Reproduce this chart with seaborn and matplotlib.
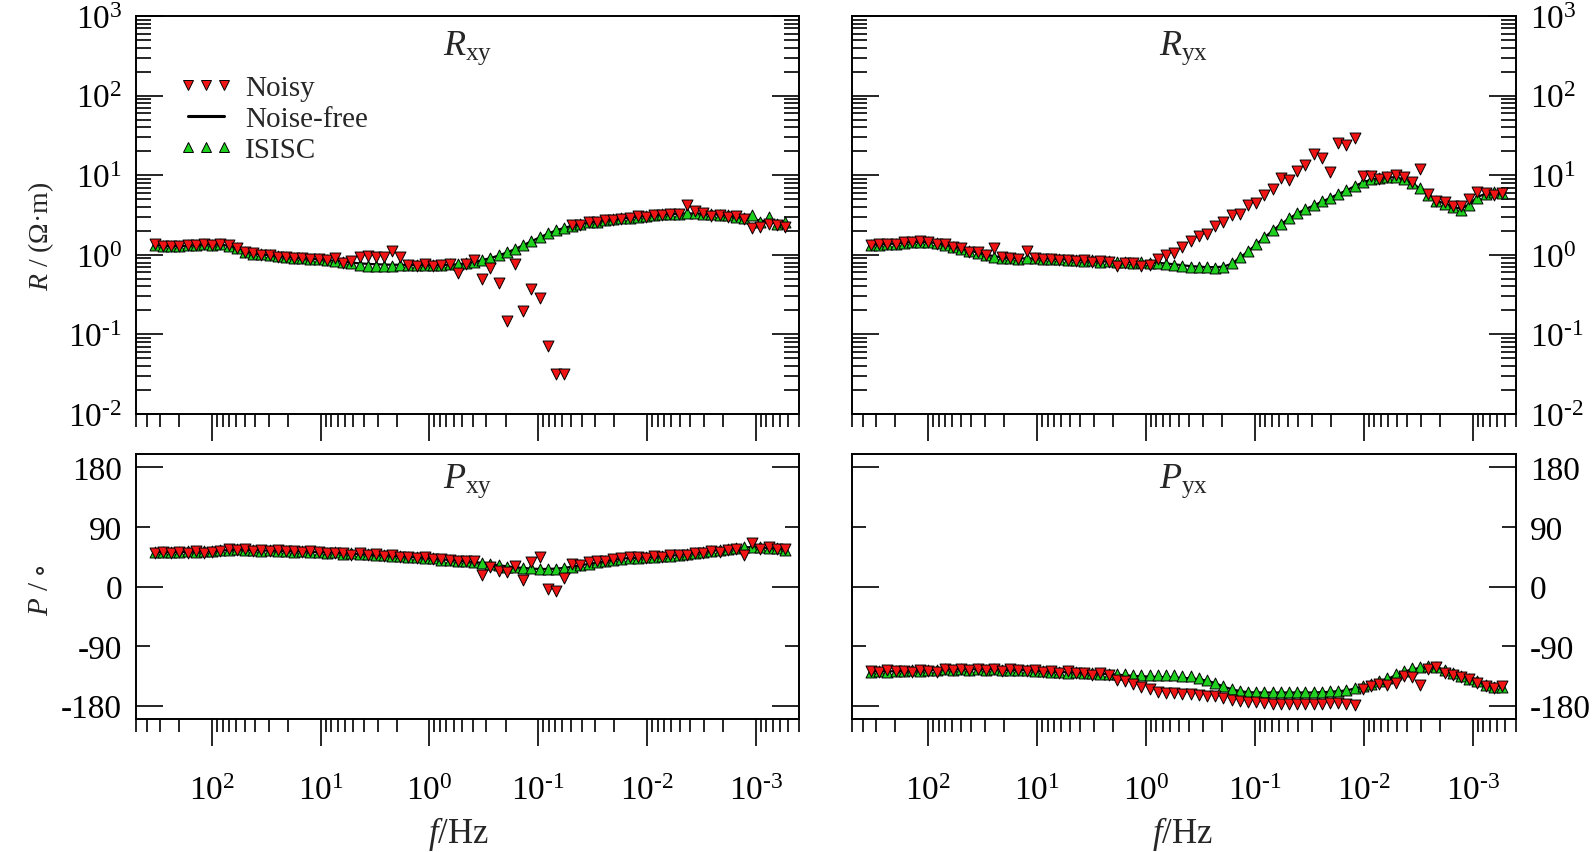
import numpy as np
import pandas as pd
import matplotlib
matplotlib.use("Agg")
import matplotlib.pyplot as plt
import seaborn as sns
from matplotlib.lines import Line2D
from matplotlib.ticker import (LogLocator, FixedLocator, FixedFormatter,
                               NullFormatter, FuncFormatter)

# ---------------- data ----------------
freq = [335, 281.7, 236.9, 199.2, 167.5, 140.9, 118.4, 99.6, 83.75, 70.4,
        59.2, 49.8, 41.9, 35.2, 29.6, 24.9, 20.9, 17.6, 14.8, 12.45,
        10.47, 8.80, 7.40, 6.22, 5.23, 4.40, 3.70, 3.11, 2.62, 2.20,
        1.85, 1.56, 1.309, 1.101, 0.925, 0.778, 0.654, 0.550, 0.463, 0.389,
        0.327, 0.275, 0.231, 0.1945, 0.1636, 0.1375, 0.1157, 0.0973, 0.0818, 0.0688,
        0.0578, 0.0486, 0.0409, 0.0344, 0.0289, 0.0243, 0.02045, 0.0172, 0.01446, 0.01216,
        0.01022, 0.0086, 0.00723, 0.00608, 0.00511, 0.0043, 0.00361, 0.00304, 0.002556, 0.00215,
        0.001807, 0.00152, 0.001278, 0.001075, 0.000904, 0.00076, 0.000639, 0.000537]

rxy_clean = [1.33, 1.30, 1.29, 1.29, 1.30, 1.32, 1.34, 1.35, 1.34, 1.30,
             1.20, 1.10, 1.04, 1.01, 0.99, 0.96, 0.94, 0.92, 0.90, 0.89,
             0.88, 0.86, 0.84, 0.82, 0.80, 0.78, 0.77, 0.76, 0.755, 0.75,
             0.75, 0.745, 0.74, 0.74, 0.74, 0.745, 0.75, 0.76, 0.78, 0.81,
             0.86, 0.91, 0.98, 1.07, 1.18, 1.32, 1.48, 1.65, 1.84, 2.02,
             2.18, 2.32, 2.43, 2.52, 2.60, 2.68, 2.76, 2.84, 2.92, 3.00,
             3.07, 3.14, 3.20, 3.25, 3.28, 3.30, 3.30, 3.28, 3.24, 3.18,
             3.10, 3.00, 2.90, 2.80, 2.70, 2.60, 2.52, 2.45]
rxy_isisc = [1.34, 1.29, 1.30, 1.28, 1.31, 1.32, 1.35, 1.34, 1.35, 1.29,
             1.21, 1.09, 1.03, 1.02, 0.98, 0.96, 0.93, 0.92, 0.90, 0.88,
             0.88, 0.85, 0.84, 0.81, 0.79, 0.74, 0.73, 0.72, 0.72, 0.73,
             0.74, 0.75, 0.74, 0.75, 0.74, 0.75, 0.76, 0.76, 0.79, 0.82,
             0.87, 0.92, 0.99, 1.08, 1.19, 1.33, 1.50, 1.66, 1.86, 2.03,
             2.20, 2.33, 2.45, 2.55, 2.62, 2.70, 2.78, 2.86, 2.94, 3.02,
             3.10, 3.16, 3.22, 3.27, 3.30, 3.32, 3.31, 3.29, 3.26, 3.20,
             3.12, 3.02, 2.88, 3.15, 2.60, 3.00, 2.45, 2.55]
rxy_noisy = [1.36, 1.29, 1.30, 1.28, 1.31, 1.33, 1.37, 1.34, 1.36, 1.31,
             1.23, 1.08, 1.05, 1.00, 1.00, 0.95, 0.95, 0.91, 0.91, 0.88,
             0.89, 0.87, 0.91, 0.80, 0.83, 0.93, 0.96, 0.93, 0.95, 1.11,
             0.93, 0.75, 0.72, 0.76, 0.73, 0.74, 0.77, 0.59, 0.77, 0.85,
             0.50, 0.68, 0.44, 0.146, 0.77, 0.195, 0.37, 0.29, 0.071, 0.032,
             0.032, 2.35, 2.40, 2.55, 2.55, 2.72, 2.70, 2.85, 2.88, 3.05,
             3.02, 3.20, 3.15, 3.30, 3.25, 4.20, 3.60, 3.35, 3.10, 3.20,
             2.95, 3.05, 2.85, 2.15, 2.25, 2.45, 2.35, 2.25]

ryx_clean = [1.33, 1.35, 1.37, 1.38, 1.42, 1.45, 1.46, 1.45, 1.40, 1.34,
             1.28, 1.20, 1.13, 1.07, 1.01, 0.96, 0.93, 0.91, 0.90, 0.90,
             0.90, 0.90, 0.89, 0.88, 0.87, 0.86, 0.85, 0.84, 0.83, 0.82,
             0.82, 0.81, 0.81, 0.81, 0.80, 0.79, 0.78, 0.76, 0.74, 0.72,
             0.71, 0.70, 0.70, 0.71, 0.77, 0.92, 1.10, 1.35, 1.65, 2.00,
             2.42, 2.85, 3.30, 3.75, 4.15, 4.65, 5.15, 5.80, 6.40, 7.30,
             8.10, 8.80, 9.20, 9.40, 9.40, 8.90, 7.90, 6.80, 5.60, 4.80,
             4.40, 4.00, 3.80, 4.30, 5.30, 5.90, 6.00, 5.90]
ryx_isisc = [1.31, 1.34, 1.36, 1.38, 1.41, 1.44, 1.46, 1.44, 1.39, 1.33,
             1.27, 1.19, 1.12, 1.06, 1.00, 0.95, 0.92, 0.90, 0.89, 0.90,
             0.91, 0.89, 0.88, 0.89, 0.86, 0.87, 0.84, 0.85, 0.82, 0.83,
             0.81, 0.82, 0.80, 0.81, 0.79, 0.80, 0.77, 0.75, 0.73, 0.71,
             0.70, 0.70, 0.69, 0.71, 0.78, 0.93, 1.12, 1.37, 1.67, 2.03,
             2.45, 2.88, 3.34, 3.78, 4.18, 4.70, 5.20, 5.85, 6.45, 7.35,
             8.20, 8.90, 9.30, 9.50, 9.50, 9.00, 8.00, 6.90, 5.60, 4.70,
             4.30, 3.95, 3.70, 4.20, 5.20, 5.80, 6.10, 5.90]
ryx_noisy = [1.31, 1.36, 1.38, 1.36, 1.45, 1.44, 1.47, 1.46, 1.38, 1.36,
             1.25, 1.22, 1.10, 1.08, 0.99, 1.21, 0.93, 0.92, 0.88, 1.13,
             0.92, 0.88, 0.89, 0.86, 0.86, 0.84, 0.87, 0.82, 0.83, 0.81,
             0.72, 0.80, 0.79, 0.72, 0.75, 0.89, 0.98, 1.06, 1.27, 1.51,
             1.70, 1.83, 2.27, 2.57, 3.18, 3.27, 4.24, 4.50, 5.70, 6.70,
             9.2, 8.6, 11.4, 13.5, 18.2, 16.5, 11.1, 25.5, 24.0, 29.5,
             9.9, 9.7, 9.0, 9.4, 10.2, 9.4, 8.1, 12.0, 5.8, 4.8,
             4.6, 4.16, 4.16, 5.0, 6.2, 6.0, 5.6, 5.9]

pxy_clean = [52, 52, 52, 52, 52.5, 52.5, 53, 53.5, 54, 55,
             55.5, 55.5, 55, 54.5, 54, 54, 53.5, 53, 53, 52.5,
             52, 51.5, 51, 50, 49.5, 49, 48, 47.5, 47, 46,
             45.5, 44.5, 44, 43, 42, 41, 40, 39, 38, 37,
             35.5, 34, 32, 30.5, 29, 28, 27, 26.5, 26.5, 27,
             28, 30, 32, 34, 36, 38, 40, 42, 43, 43.5,
             44, 44.5, 45.5, 46.5, 47.5, 49, 50.5, 52, 53.5, 55,
             56.5, 58, 59, 59.5, 59, 58, 57, 56]
pxy_isisc = [52, 52.5, 51.5, 52, 53, 52, 53.5, 53, 54.5, 55,
             56, 55, 55.5, 54, 54.5, 53.5, 54, 52.5, 53.5, 52,
             52.5, 51, 51.5, 49.5, 50, 48.5, 48.5, 47, 47.5, 45.5,
             46, 44, 44.5, 42.5, 42.5, 40.5, 40.5, 38.5, 38.5, 36.5,
             36, 33.5, 32.5, 30, 29.5, 27.5, 27.5, 26, 27, 26.5,
             28.5, 29.5, 32.5, 33.5, 36.5, 38, 40, 41.5, 43, 43.5,
             44, 44.5, 45.5, 46, 48, 48.5, 51, 51.5, 54, 54.5,
             57, 57.5, 59.5, 59, 59.5, 57.5, 57.5, 55.5]
pxy_noisy = [51, 52, 50, 52, 51, 53, 51, 52, 54, 56,
             55, 57, 54, 55, 54, 55, 53, 54, 52, 53,
             52, 51, 50, 51, 48, 50, 47, 49, 46, 47,
             45, 45, 43, 44, 41, 42, 40, 39, 39, 38,
             17.6, 28.7, 23.6, 22, 31, 10, 37, 44, -4, -7.5,
             12.6, 34, 33, 37, 38, 39, 41, 43, 44, 45,
             43, 46, 44, 47, 48, 47, 51, 50, 53, 52,
             55, 57, 47, 65, 57, 59, 56, 57]

pyx_clean = [-128, -128, -128, -128, -127.5, -127, -127, -126.5, -126, -125.5,
             -125, -125, -125, -125, -125, -125, -125.5, -126, -126, -126.5,
             -127, -128, -128.5, -129, -129.5, -130, -130.5, -131, -131.5, -132,
             -133, -134, -135, -135.5, -136, -136.5, -137, -137.5, -138, -138.5,
             -140, -142, -146, -151, -155, -158, -159.5, -160, -160, -160,
             -160, -160, -160, -160, -160, -159.5, -159, -158, -157, -154,
             -151, -148, -145, -140, -134, -129, -125, -123, -121, -121,
             -127, -131, -134, -138, -140, -149, -151, -150]
pyx_isisc = [-129, -127, -128.5, -127, -128, -126.5, -127.5, -126, -126.5, -125,
             -125.5, -124.5, -125.5, -124.5, -125.5, -124.5, -126, -125.5, -126.5, -126,
             -127.5, -127.5, -129, -128.5, -130, -129.5, -131, -130.5, -132, -131.5,
             -132, -132.5, -133, -133, -133.5, -133.5, -134, -134, -134.5, -135.5,
             -138, -141, -145, -150, -154, -157, -158.5, -159, -159.5, -159.5,
             -159.5, -159.5, -159, -159.5, -159, -159, -158, -157.5, -156, -153,
             -150, -147, -143, -138, -132, -127, -123, -121, -120, -122,
             -126, -131, -135, -139, -142, -148, -152, -151]
pyx_noisy = [-127, -129, -126, -128, -127, -129, -126, -128, -129, -124,
             -126, -124, -126, -124, -126, -125, -127, -124, -126, -127,
             -126, -129, -128, -130, -128, -131, -130, -133, -131, -134,
             -141, -143, -147, -151, -155, -159, -160, -161, -162, -163,
             -164, -165, -166, -168, -171, -173, -175, -175, -176, -177,
             -177, -177, -178, -178, -177, -177, -176, -176, -178, -179,
             -155, -150, -147, -149, -145, -135, -137, -149, -124, -122,
             -131, -134, -137, -140, -146, -150, -153, -150]

series_names = ["Noisy", "Noise-free", "ISISC"]
panel_titles = {"Rxy": r"$\mathit{R}_{\mathregular{xy}}$", "Ryx": r"$\mathit{R}_{\mathregular{yx}}$",
                "Pxy": r"$\mathit{P}_{\mathregular{xy}}$", "Pyx": r"$\mathit{P}_{\mathregular{yx}}$"}
res_ticks = [1e-2, 1e-1, 1e0, 1e1, 1e2, 1e3]
freq_ticks = [1e2, 1e1, 1e0, 1e-1, 1e-2, 1e-3]
phase_major = [-180, 0, 180]
phase_minor = [-90, 90]
phase_major_labels = ["-180", "0", "180"]
phase_minor_labels = ["-90", "90"]

# ---------------- assemble table ----------------
data = {"Rxy": (rxy_noisy, rxy_clean, rxy_isisc),
        "Ryx": (ryx_noisy, ryx_clean, ryx_isisc),
        "Pxy": (pxy_noisy, pxy_clean, pxy_isisc),
        "Pyx": (pyx_noisy, pyx_clean, pyx_isisc)}
frames = []
for pname, vals in data.items():
    for sname, v in zip(series_names, vals):
        frames.append(pd.DataFrame({"f": freq, "v": v, "series": sname, "panel": pname}))
df = pd.concat(frames, ignore_index=True)

# ---------------- style ----------------
sns.set_style("white")
plt.rcParams["font.family"] = ["Liberation Serif", "DejaVu Serif"]
plt.rcParams["mathtext.fontset"] = "custom"
plt.rcParams["mathtext.rm"] = "Liberation Serif"
plt.rcParams["mathtext.it"] = "Liberation Serif:italic"
plt.rcParams["mathtext.default"] = "regular"
plt.rcParams["axes.unicode_minus"] = False
plt.rcParams["axes.edgecolor"] = "black"
plt.rcParams["axes.linewidth"] = 1.4
plt.rcParams["xtick.color"] = "black"
plt.rcParams["ytick.color"] = "black"

RED = "#f01414"
GREEN = "#1fd01f"
MS = 62  # scatter marker area (pt^2)

W, H = 1594, 853
fig = plt.figure(figsize=(W / 100, H / 100), dpi=100)
fig.patch.set_facecolor("white")


def rect(l, t, r, b):
    return [l / W, 1 - b / H, (r - l) / W, (b - t) / H]


def pow10(v, p):
    e = int(round(np.log10(v)))
    es = ("\u2010%d" % abs(e)) if e < 0 else "%d" % e
    return r"$\mathregular{10^{%s}}$" % es


axes = {
    "Rxy": fig.add_axes(rect(136, 17, 799, 415)),
    "Ryx": fig.add_axes(rect(852, 17, 1516, 415)),
    "Pxy": fig.add_axes(rect(136, 455, 799, 720)),
    "Pyx": fig.add_axes(rect(852, 455, 1516, 720)),
}

TICK_FS = 24
for pname, ax in axes.items():
    d = df[df.panel == pname]
    sns.lineplot(data=d[d.series == "Noise-free"], x="f", y="v", ax=ax,
                 color="black", lw=1.6, estimator=None, sort=False,
                 zorder=2, legend=False)
    sns.scatterplot(data=d[d.series == "ISISC"], x="f", y="v", ax=ax,
                    marker="^", s=MS, color=GREEN, edgecolor="black",
                    linewidth=0.7, zorder=3, legend=False)
    sns.scatterplot(data=d[d.series == "Noisy"], x="f", y="v", ax=ax,
                    marker="v", s=MS, color=RED, edgecolor="black",
                    linewidth=0.7, zorder=4, legend=False)
    ax.set_xlabel("")
    ax.set_ylabel("")
    ax.set_facecolor("white")
    for sp in ax.spines.values():
        sp.set_visible(True)
        sp.set_color("black")
        sp.set_linewidth(1.4)

    # x axis: reversed log frequency
    ax.set_xscale("log")
    ax.set_xlim(500, 4e-4)
    ax.xaxis.set_major_locator(FixedLocator(freq_ticks))
    ax.xaxis.set_minor_locator(LogLocator(base=10, subs=np.arange(2, 10), numticks=20))
    ax.xaxis.set_minor_formatter(NullFormatter())
    ax.xaxis.set_major_formatter(FuncFormatter(pow10))
    ax.tick_params(axis="x", which="major", direction="out", length=19.5,
                   width=1.2, bottom=True, top=False, labelsize=TICK_FS, pad=21)
    ax.tick_params(axis="x", which="minor", direction="out", length=9.5,
                   width=1.2, bottom=True, top=False)

    right_col = pname in ("Ryx", "Pyx")
    ax.tick_params(axis="y", which="both", direction="in", left=True,
                   right=True, width=1.2, labelsize=TICK_FS, pad=10,
                   labelleft=not right_col, labelright=right_col)
    ax.tick_params(axis="y", which="major", length=19.5)

    if pname.startswith("R"):
        ax.set_yscale("log")
        ax.set_ylim(1e-2, 1e3)
        ax.yaxis.set_major_locator(FixedLocator(res_ticks))
        ax.yaxis.set_minor_locator(LogLocator(base=10, subs=np.arange(2, 10), numticks=20))
        ax.yaxis.set_minor_formatter(NullFormatter())
        ax.yaxis.set_major_formatter(FuncFormatter(pow10))
        ax.tick_params(axis="y", which="minor", length=11)
        ax.tick_params(axis="x", which="both", labelbottom=False)
        ax.text(0.5, 1 - 12 / 398, panel_titles[pname], transform=ax.transAxes,
                ha="center", va="top", fontsize=26)
    else:
        ax.set_ylim(-200, 200)
        ax.yaxis.set_major_locator(FixedLocator(phase_major))
        ax.yaxis.set_major_formatter(FixedFormatter(phase_major_labels))
        ax.yaxis.set_minor_locator(FixedLocator(phase_minor))
        ax.yaxis.set_minor_formatter(FixedFormatter(phase_minor_labels))
        ax.tick_params(axis="y", which="minor", length=10, labelsize=TICK_FS)
        ax.text(0.5, 1 - 8 / 265, panel_titles[pname], transform=ax.transAxes,
                ha="center", va="top", fontsize=26)

# legend
h_noisy = Line2D([], [], marker="v", ls="none", mfc=RED, mec="black", ms=7, mew=0.7)
h_clean = Line2D([], [], color="black", lw=2.2)
h_isisc = Line2D([], [], marker="^", ls="none", mfc=GREEN, mec="black", ms=7, mew=0.7)
axes["Rxy"].legend([h_noisy, h_clean, h_isisc], series_names, loc="upper left",
                   bbox_to_anchor=(0.065, 0.852), frameon=False, numpoints=3,
                   handlelength=1.85, handletextpad=0.4, labelspacing=0.15,
                   borderpad=0, borderaxespad=0, fontsize=21)

# axis labels
fig.text(41 / W, 1 - 236 / H, r"$\mathit{R}$ / (Ω·m)", rotation=90, ha="center",
         va="center", fontsize=20)
fig.text(41 / W, 1 - 590 / H, r"$\mathit{P}$ / $\circ$", rotation=90, ha="center",
         va="center", fontsize=21)
fig.text(458 / W, 1 - 834 / H, r"$\mathit{f}$/Hz", ha="center", va="center", fontsize=25)
fig.text(1182 / W, 1 - 834 / H, r"$\mathit{f}$/Hz", ha="center", va="center", fontsize=25)

fig.savefig("out.png", dpi=100, facecolor="white")
